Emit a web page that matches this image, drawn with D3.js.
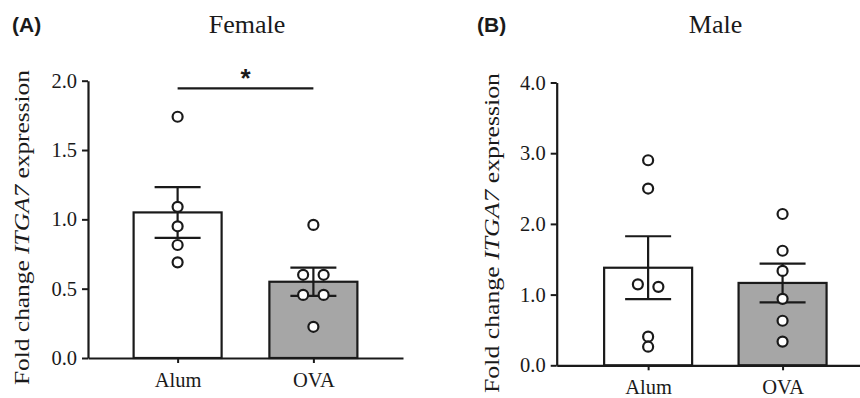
<!DOCTYPE html>
<html>
<head>
<meta charset="utf-8">
<script src="https://cdn.jsdelivr.net/npm/d3@7"></script>
<style>
  html, body { margin: 0; padding: 0; background: #fff; }
  svg { display: block; }
</style>
</head>
<body>
<svg id="chart" width="860" height="398"></svg>
<script>
// ---------------- data ----------------
const groups = ["Alum", "OVA"];

const femaleMeans = [1.05, 0.55];
const femaleSEM = [0.183, 0.102];
const femaleAlumPoints = [1.74, 1.09, 0.95, 0.815, 0.69];
const femaleOVAPoints = [0.96, 0.60, 0.60, 0.455, 0.455, 0.225];

const maleMeans = [1.38, 1.165];
const maleSEM = [0.445, 0.274];
const maleAlumPoints = [2.90, 2.50, 1.11, 1.145, 0.405, 0.263];
const maleOVAPoints = [2.14, 1.62, 1.335, 0.94, 0.63, 0.335];

const femaleTicks = [0, 0.5, 1.0, 1.5, 2.0];
const maleTicks = [0, 1, 2, 3, 4];

const barFills = ["#ffffff", "#a6a6a6"];
const ink = "#1a1a1a";
const SERIF = "'Liberation Serif', 'Times New Roman', Times, serif";
const SANS = "'Liberation Sans', Arial, Helvetica, sans-serif";

const svg = d3.select("#chart");

function serif(sel, size) {
  sel.attr("font-family", SERIF).style("font-family", SERIF)
     .attr("font-size", size).style("font-size", size + "px").attr("fill", ink);
}

function panel(opts) {
  const g = svg.append("g");
  const x = d3.scalePoint().domain(groups).range(opts.xRange).padding(opts.xPad);
  const y = d3.scaleLinear().domain(opts.yDomain).range(opts.yRange);
  const barW = 88;
  const capW = 46;
  const r = 5;

  // bars
  g.selectAll("rect.bar").data(groups).join("rect")
    .attr("x", d => x(d) - barW / 2)
    .attr("y", (d, i) => y(opts.means[i]))
    .attr("width", barW)
    .attr("height", (d, i) => y(0) - y(opts.means[i]))
    .attr("fill", (d, i) => barFills[i])
    .attr("stroke", ink)
    .attr("stroke-width", 2.2);

  // error bars
  groups.forEach((grp, i) => {
    const cx = x(grp);
    const hi = y(opts.means[i] + opts.sem[i]);
    const lo = y(opts.means[i] - opts.sem[i]);
    g.append("line").attr("x1", cx).attr("x2", cx).attr("y1", hi).attr("y2", lo)
      .attr("stroke", ink).attr("stroke-width", 2.2);
    [hi, lo].forEach(yy => {
      g.append("line").attr("x1", cx - capW / 2).attr("x2", cx + capW / 2)
        .attr("y1", yy).attr("y2", yy).attr("stroke", ink).attr("stroke-width", 2.2);
    });
  });

  // points with simple dodge for overlapping values
  groups.forEach((grp, i) => {
    const pts = opts.points[i].map(v => ({ v, py: y(v) }));
    const sorted = pts.slice().sort((a, b) => a.py - b.py);
    const clusters = [];
    sorted.forEach(p => {
      const last = clusters[clusters.length - 1];
      if (last && Math.abs(p.py - last[last.length - 1].py) < 6) last.push(p);
      else clusters.push([p]);
    });
    clusters.forEach(c => c.forEach((p, k) => { p.dx = (k - (c.length - 1) / 2) * 20.5; }));
    g.selectAll(null).data(pts).join("circle")
      .attr("cx", p => x(grp) + p.dx)
      .attr("cy", p => p.py)
      .attr("r", r)
      .attr("fill", "#fff")
      .attr("stroke", ink)
      .attr("stroke-width", 2.2);
  });

  // y axis
  const yAxis = g.append("g")
    .attr("transform", `translate(${opts.xRange[0]},0)`)
    .call(d3.axisLeft(y).tickValues(opts.ticks).tickFormat(d3.format(".1f"))
      .tickSize(6).tickPadding(5).tickSizeOuter(0));
  yAxis.attr("font-family", SERIF);
  yAxis.select(".domain").attr("stroke", ink).attr("stroke-width", 2.2);
  yAxis.selectAll(".tick line").attr("stroke", ink).attr("stroke-width", 2);
  yAxis.selectAll(".tick text").call(serif, 20.5);

  // x axis
  const xAxis = g.append("g")
    .attr("transform", `translate(0,${y(0)})`)
    .call(d3.axisBottom(x).tickSize(5).tickPadding(9).tickSizeOuter(0));
  xAxis.attr("font-family", SERIF);
  xAxis.select(".domain").attr("stroke", ink).attr("stroke-width", 2.2);
  xAxis.selectAll(".tick line").attr("stroke", ink).attr("stroke-width", 2);
  xAxis.selectAll(".tick text").call(serif, 20.5);

  // y label
  const lab = g.append("text")
    .attr("transform", `translate(${opts.labX},${opts.labY}) rotate(-90)`)
    .attr("text-anchor", "middle")
    .attr("textLength", opts.labLen)
    .attr("lengthAdjust", "spacingAndGlyphs")
    .call(serif, 22);
  lab.append("tspan").text("Fold change ");
  lab.append("tspan").attr("font-style", "italic").text("ITGA7");
  lab.append("tspan").text(" expression");

  // title
  g.append("text")
    .attr("x", opts.titleX).attr("y", 33)
    .attr("text-anchor", "middle")
    .call(serif, 26)
    .text(opts.title);

  // panel letter
  g.append("text")
    .attr("x", opts.letterX).attr("y", 32)
    .attr("font-family", SANS).style("font-family", SANS)
    .attr("font-weight", "bold").attr("font-size", 21).attr("fill", ink)
    .text(opts.letter);

  return { x, y, g };
}

const A = panel({
  xRange: [88, 403], xPad: 0.66,
  yDomain: [0, 2], yRange: [358, 80.7],
  means: femaleMeans, sem: femaleSEM,
  points: [femaleAlumPoints, femaleOVAPoints],
  ticks: femaleTicks,
  labX: 28.5, labY: 227.5, labLen: 315,
  title: "Female", titleX: 247,
  letter: "(A)", letterX: 12
});

const B = panel({
  xRange: [556.7, 874], xPad: 0.68,
  yDomain: [0, 4], yRange: [365.3, 82.5],
  means: maleMeans, sem: maleSEM,
  points: [maleAlumPoints, maleOVAPoints],
  ticks: maleTicks,
  labX: 498.5, labY: 233, labLen: 320,
  title: "Male", titleX: 715.5,
  letter: "(B)", letterX: 477
});

// significance bracket (panel A)
A.g.append("line")
  .attr("x1", A.x("Alum")).attr("x2", A.x("OVA"))
  .attr("y1", 88.3).attr("y2", 88.3)
  .attr("stroke", ink).attr("stroke-width", 2.2);
A.g.append("text")
  .attr("x", (A.x("Alum") + A.x("OVA")) / 2).attr("y", 87)
  .attr("text-anchor", "middle")
  .attr("font-family", SANS).style("font-family", SANS)
  .attr("font-weight", "bold").attr("font-size", 26).attr("fill", ink)
  .text("*");
</script>
</body>
</html>
